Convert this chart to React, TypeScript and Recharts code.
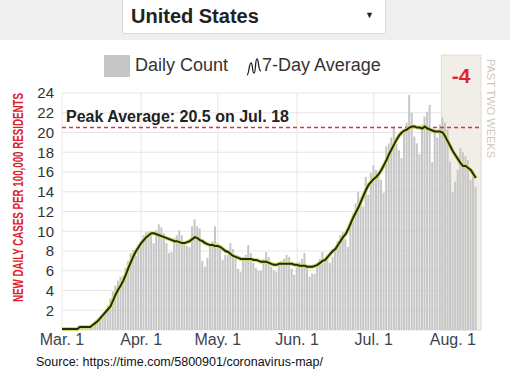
import {
  ComposedChart,
  Bar,
  Line,
  XAxis,
  YAxis,
  CartesianGrid,
  ReferenceLine,
  ReferenceArea,
  Legend,
} from "recharts";

// New daily cases per 100k, Mar 1 .. Aug 10 (one value per day)
const daily = [
  0, 0, 0, 0, 0, 0.1, 0.1, 0.1, 0.2, 0.2, 0.3, 0.4,
  0.6, 0.8, 0.9, 1.2, 1.5, 1.9, 2.5, 3.2, 3.9, 4.5, 5.0, 5.4, 5.5, 6.3, 7.0, 7.8, 8.1, 7.5,
  8.6, 9.0, 9.6, 9.9, 10.0, 9.5, 8.8, 10.1, 10.7, 10.4, 9.8, 8.8, 7.8, 7.9, 9.3, 9.6,
  10.1, 9.6, 8.7, 8.5, 8.4, 10.5, 11.2, 10.5, 10.3, 7.0, 6.4, 7.3, 8.6, 9.0, 10.5, 8.8,
  8.3, 7.1, 7.6, 7.6, 8.8, 8.2, 7.4, 6.2, 5.9, 7.0, 7.6, 8.6, 7.8, 6.8, 6.3, 6.0,
  6.0, 7.2, 7.9, 7.4, 6.4, 6.0, 5.9, 6.8, 7.0, 7.2, 7.6, 7.4, 6.2, 5.6, 6.4, 6.9,
  7.2, 7.8, 6.6, 5.4, 5.7, 5.7, 6.6, 7.2, 7.9, 7.2, 7.2, 6.8, 7.4, 8.4, 9.0, 9.6,
  9.9, 9.2, 8.4, 10.6, 11.8, 12.8, 14.0, 13.4, 12.5, 15.5, 13.7, 15.9, 16.7, 16.2,
  15.6, 15.2, 13.9, 18.6, 18.9, 19.5, 20.6, 18.8, 18.2, 17.4, 20.0, 21.0, 23.8, 22.0,
  19.6, 18.9, 17.8, 20.8, 21.6, 22.1, 22.8, 17.0, 20.0, 19.5, 20.8, 21.5, 21.0, 20.3,
  17.0, 14.0, 15.0, 16.2, 18.4, 18.0, 17.6, 17.2, 15.2, 16.2, 14.5,
];

// 7-day average, same days
const avg7 = [
  0.1, 0.1, 0.1, 0.1, 0.1, 0.1, 0.1, 0.3, 0.3, 0.3, 0.3, 0.3,
  0.5, 0.7, 0.9, 1.2, 1.5, 1.8, 2.1, 2.4, 3.0, 3.6, 4.1, 4.5, 5.0, 5.6, 6.3, 6.9, 7.5, 8.0,
  8.4, 8.8, 9.1, 9.4, 9.6, 9.8, 9.8, 9.7, 9.6, 9.5, 9.4, 9.3, 9.2, 9.1, 9.0, 9.0,
  8.9, 8.8, 8.8, 8.9, 9.0, 9.2, 9.4, 9.3, 9.1, 9.0, 8.8, 8.7, 8.6, 8.6, 8.5, 8.5,
  8.4, 8.2, 8.0, 7.9, 7.7, 7.5, 7.4, 7.3, 7.2, 7.2, 7.2, 7.2, 7.2, 7.1, 7.1, 7.0,
  6.9, 6.9, 6.9, 6.8, 6.7, 6.6, 6.6, 6.7, 6.7, 6.7, 6.7, 6.7, 6.7, 6.6, 6.6, 6.5,
  6.5, 6.5, 6.4, 6.4, 6.4, 6.5, 6.6, 6.8, 7.0, 7.1, 7.4, 7.7, 8.0, 8.2, 8.6, 9.0,
  9.4, 9.7, 10.2, 10.8, 11.4, 11.9, 12.4, 13.0, 13.6, 14.2, 14.7, 15.0, 15.3, 15.5,
  15.8, 16.2, 16.7, 17.2, 17.8, 18.3, 18.8, 19.3, 19.7, 20.0, 20.2, 20.3, 20.5, 20.6,
  20.6, 20.5, 20.5, 20.4, 20.6, 20.4, 20.3, 20.2, 20.1, 20.1, 20.1, 20.0, 19.6, 19.1,
  18.6, 18.1, 17.7, 17.3, 16.9, 16.6, 16.6, 16.4, 16.2, 15.8, 15.4,
];

const tickDays = [0, 31, 61, 92, 122, 153];
const tickLabels = ["Mar. 1", "Apr. 1", "May. 1", "Jun. 1", "Jul. 1", "Aug. 1"];
const yTicks = [2, 4, 6, 8, 10, 12, 14, 16, 18, 20, 22, 24];

const peakAvg = 20.5;
const peakLabel = "Peak Average: 20.5 on Jul. 18";
const twoWeekChange = "-4";
const pastStart = 148.5;

const data = daily.map((v, i) => ({ day: i, daily: v, avg: avg7[i] }));

const FONT = "Arial, 'Liberation Sans', Helvetica, sans-serif";

// shaded "past two weeks" box, pulled up above the plot to hold the change figure
const PastWeeks = (p: any) => {
  const top = p.y - 38;
  const cx = p.x + p.width / 2;
  return (
    <g>
      <rect x={p.x} y={top} width={p.width} height={p.height + 38} fill="#f1ede7" stroke="#e3ddd4" />
      <text x={cx} y={top + 28} textAnchor="middle" fill="#e3232c" fontSize={21} fontWeight="bold" fontFamily={FONT}>
        {twoWeekChange}
      </text>
      <text
        x={p.x + p.width + 6}
        y={top + 4}
        transform={`rotate(90, ${p.x + p.width + 6}, ${top + 4})`}
        fill="#cdc6bd"
        fontSize={11}
        fontFamily={FONT}
        textLength={99}
        lengthAdjust="spacing"
      >
        PAST TWO WEEKS
      </text>
    </g>
  );
};

const LegendBox = () => (
  <div style={{ position: "relative", height: 24, fontFamily: FONT, fontSize: 18, color: "#333" }}>
    <div style={{ position: "absolute", left: 104, top: 0, width: 26, height: 22, background: "#c6c6c6" }} />
    <span style={{ position: "absolute", left: 135, top: 0 }}>Daily Count</span>
    <svg style={{ position: "absolute", left: 246, top: 2 }} width={16} height={20}>
      <path d="M1 18 C3 18 3 6 5 6 C7 6 6 16 8 16 C10 16 9 2 11 2 C13 2 12 14 15 14" fill="none" stroke="#222" strokeWidth={1.3} />
    </svg>
    <span style={{ position: "absolute", left: 262, top: 0 }}>7-Day Average</span>
  </div>
);

export default function App() {
  return (
    <div style={{ position: "absolute", left: 0, top: 0, width: 510, height: 374, background: "#fff", overflow: "hidden" }}>
      <div style={{ position: "absolute", left: 0, top: 0, width: 510, height: 40, background: "#efefef" }} />
      <div
        style={{
          position: "absolute",
          left: 122,
          top: -2,
          width: 262,
          height: 34,
          background: "#fff",
          border: "1px solid #d9d9d9",
          borderRadius: 3,
          fontFamily: FONT,
        }}
      >
        <span style={{ position: "absolute", left: 8, top: 6, fontSize: 20, fontWeight: "bold", color: "#222" }}>
          United States
        </span>
        <span style={{ position: "absolute", left: 242, top: 11, fontSize: 9, color: "#222" }}>▼</span>
      </div>

      <ComposedChart
        width={510}
        height={374}
        data={data}
        margin={{ top: 69, right: 29, bottom: 14, left: 12 }}
        style={{ position: "absolute", left: 0, top: 0, fontFamily: FONT }}
      >
        <ReferenceArea x1={pastStart} x2={164} y1={0} y2={24} shape={PastWeeks} ifOverflow="visible" />
        <CartesianGrid stroke="#e6e6e6" strokeWidth={1} />
        <XAxis
          dataKey="day"
          type="number"
          domain={[0, 164]}
          ticks={tickDays}
          interval={0}
          tickFormatter={(v: number) => tickLabels[tickDays.indexOf(v)]}
          axisLine={false}
          tickLine={false}
          tick={{ fill: "#3c4250", fontSize: 16, dy: -4 }}
          height={30}
        />
        <YAxis
          domain={[0, 24]}
          ticks={yTicks}
          interval={0}
          axisLine={false}
          tickLine={false}
          width={50}
          tick={{ fill: "#333", fontSize: 15 }}
          label={() => (
            <text
              x={23}
              y={302}
              transform="rotate(-90, 23, 302)"
              fill="#e0202a"
              fontSize={14}
              fontWeight="bold"
              fontFamily={FONT}
              textLength={209}
              lengthAdjust="spacingAndGlyphs"
            >
              NEW DAILY CASES PER 100,000 RESIDENTS
            </text>
          )}
        />
        <Legend verticalAlign="top" wrapperStyle={{ top: 55, left: 0, width: 510 }} content={<LegendBox />} />
        <Bar dataKey="daily" name="Daily Count" fill="#c6c6c6" barSize={2} isAnimationActive={false} />
        <ReferenceLine
          y={peakAvg}
          stroke="#d9343a"
          strokeWidth={1.5}
          strokeDasharray="4 3"
          label={({ viewBox }: any) => (
            <text x={viewBox.x + 4} y={viewBox.y - 6} fill="#222" fontSize={16} fontWeight="bold" fontFamily={FONT}>
              {peakLabel}
            </text>
          )}
        />
        <Line dataKey="avg" stroke="#d3dd6a" strokeWidth={4} dot={false} legendType="none" isAnimationActive={false} />
        <Line dataKey="avg" name="7-Day Average" stroke="#272a0f" strokeWidth={2} dot={false} isAnimationActive={false} />
      </ComposedChart>

      <div style={{ position: "absolute", left: 36, top: 355, fontFamily: FONT, fontSize: 12.5, color: "#111" }}>
        Source: https://time.com/5800901/coronavirus-map/
      </div>
    </div>
  );
}
